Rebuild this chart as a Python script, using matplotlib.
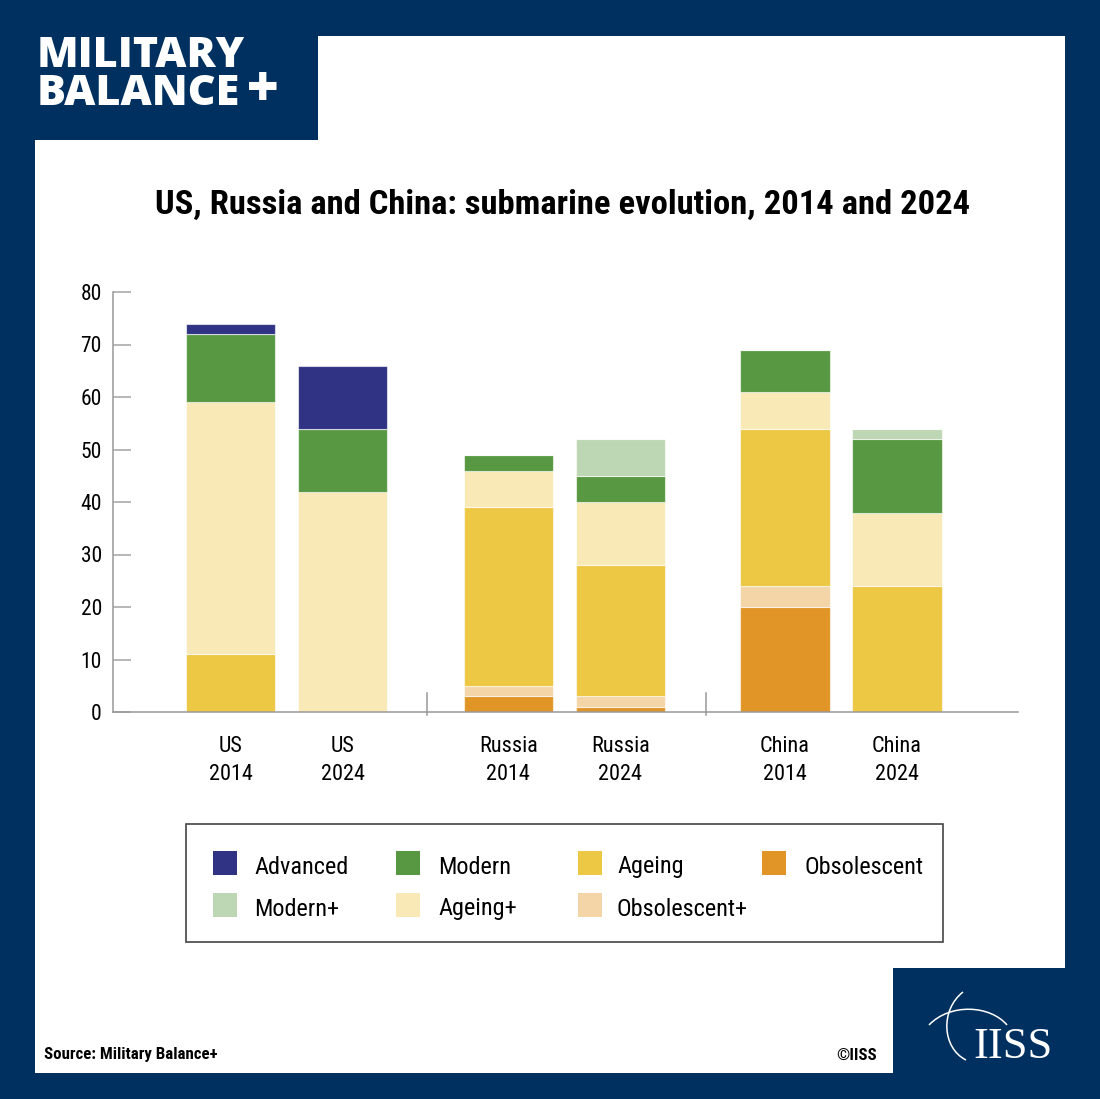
import numpy as np
import matplotlib.pyplot as plt
from matplotlib import font_manager
from matplotlib.patches import Rectangle, PathPatch
from matplotlib.path import Path

# ---------------------------------------------
# ----                 Data                 ----
# ---------------------------------------------

bar_labels = ["US\n2014", "US\n2024", "Russia\n2014", "Russia\n2024", "China\n2014", "China\n2024"]
bar_pos = [1.05, 2.05, 3.53, 4.53, 6.0, 7.0]
group_breaks = [2.80, 5.29]

# stacked from bottom to top
obsolescent      = [0, 0, 3, 1, 20, 0]
obsolescent_plus = [0, 0, 2, 2, 4, 0]
ageing           = [11, 0, 34, 25, 30, 24]
ageing_plus      = [48, 42, 7, 12, 7, 14]
modern           = [13, 12, 3, 5, 8, 14]
modern_plus      = [0, 0, 0, 7, 0, 2]
advanced         = [2, 12, 0, 0, 0, 0]

series = [
    ("Obsolescent", obsolescent, "#e19527"),
    ("Obsolescent+", obsolescent_plus, "#f4d5a8"),
    ("Ageing", ageing, "#edc845"),
    ("Ageing+", ageing_plus, "#f8e9b6"),
    ("Modern", modern, "#589842"),
    ("Modern+", modern_plus, "#bdd6b3"),
    ("Advanced", advanced, "#303383"),
]

legend_rows = [["Advanced", "Modern", "Ageing", "Obsolescent"],
               ["Modern+", "Ageing+", "Obsolescent+"]]

NAVY = "#00305f"
W, H = 1100, 1099

# condensed font if one is around, else DejaVu
have = {f.name for f in font_manager.fontManager.ttflist}
def pick(cands, fallback="DejaVu Sans"):
    for c in cands:
        if c in have:
            return [c, fallback]
    return [fallback]

NARROW = pick(["Roboto Condensed", "Liberation Sans Narrow", "Archivo Narrow",
               "PT Sans Narrow", "Fira Sans Condensed", "IBM Plex Sans Condensed",
               "Barlow Semi Condensed"])
LOGO = pick(["Open Sans", "Lato"])

def fx(x):
    return x / W

def fy(y):
    return 1 - y / H

fig = plt.figure(figsize=(W / 100, H / 100), dpi=100)
fig.patch.set_facecolor(NAVY)

# white panel + navy corner blocks
fig.patches.append(Rectangle((fx(35), fy(1073)), fx(1065) - fx(35), fy(36) - fy(1073),
                             transform=fig.transFigure, facecolor="white", edgecolor="none", zorder=-2))
fig.patches.append(Rectangle((0, fy(140)), fx(318), 1 - fy(140),
                             transform=fig.transFigure, facecolor=NAVY, edgecolor="none", zorder=-1))
fig.patches.append(Rectangle((fx(893), 0), 1 - fx(893), fy(968),
                             transform=fig.transFigure, facecolor=NAVY, edgecolor="none", zorder=-1))

# ---------------------------------------------
# ----               Chart                  ----
# ---------------------------------------------

ax = fig.add_axes([fx(113), fy(712), fx(1018) - fx(113), fy(292) - fy(712)])
ax.set_facecolor("none")

bottom = np.zeros(len(bar_pos))
for name, vals, col in series:
    vals = np.array(vals, dtype=float)
    ax.bar(bar_pos, vals, width=0.80, bottom=bottom, color=col,
           edgecolor=(1, 1, 1, 0.6), linewidth=0.8, label=name, zorder=2)
    bottom += vals

ax.set_xlim(0, 8.08)
ax.set_ylim(0, 80)
ax.set_yticks(range(0, 81, 10))
ax.set_xticks(bar_pos)
ax.set_xticklabels(bar_labels, family=NARROW, fontsize=16, linespacing=1.45)
for lab in ax.get_yticklabels():
    lab.set_family(NARROW)
    lab.set_fontsize(15.5)
ax.tick_params(axis="y", direction="in", length=13, width=1.2, color="#aaaaaa", pad=8)
ax.tick_params(axis="x", length=0, pad=17)

for s in ["top", "right"]:
    ax.spines[s].set_visible(False)
ax.spines["left"].set_color("#999999")
ax.spines["bottom"].set_color("#999999")
ax.spines["left"].set_linewidth(1.1)
ax.spines["bottom"].set_linewidth(1.1)

for xb in group_breaks:
    ax.axvline(xb, ymin=-0.008, ymax=0.045, color="#999999", lw=1.1, clip_on=False)

# ---------------------------------------------
# ----           Title and legend           ----
# ---------------------------------------------

fig.text(fx(563), fy(205), "US, Russia and China: submarine evolution, 2014 and 2024",
         ha="center", va="center", fontsize=24.8, fontweight="bold", family=NARROW)

fig.patches.append(Rectangle((fx(186), fy(942)), fx(943) - fx(186), fy(824) - fy(942),
                             transform=fig.transFigure, facecolor="white",
                             edgecolor="#444444", linewidth=1.2, zorder=2))
colors = {name: col for name, _, col in series}
sq_x = [213, 396, 578, 762]
txt_x = [254, 438, 617, 804]
row_y = [863, 905]
for r, row in enumerate(legend_rows):
    for c, name in enumerate(row):
        fig.patches.append(Rectangle((fx(sq_x[c]), fy(row_y[r] + 12)), fx(24), 24 / H,
                                     transform=fig.transFigure, facecolor=colors[name],
                                     edgecolor="none", zorder=3))
        fig.text(fx(txt_x[c]), fy(row_y[r] + 4), name, ha="left", va="center",
                 fontsize=17.5, family=NARROW, zorder=4)

# ---------------------------------------------
# ----          Branding / footer           ----
# ---------------------------------------------

fig.text(fx(37), fy(75), "MILITARY\nBALANCE", ha="left", va="center", fontsize=31,
         fontweight="heavy", family=LOGO, color="white", linespacing=0.85)
fig.text(fx(263), fy(92), "+", ha="center", va="center", fontsize=40,
         fontweight="heavy", family=LOGO, color="white")

fig.text(fx(44), fy(1055), "Source: Military Balance+", ha="left", va="center",
         fontsize=12.2, fontweight="bold", family=NARROW)
fig.text(fx(877), fy(1055), "\u00a9IISS", ha="right", va="center",
         fontsize=12.2, fontweight="bold", family=NARROW)

fig.text(fx(1013), fy(1047), "IISS", ha="center", va="center", fontsize=32,
         family=["Liberation Serif", "DejaVu Serif"], color="white")

# logo arcs
arc1 = Path([(fx(929), fy(1025)), (fx(950), fy(1003)), (fx(990), fy(1005)), (fx(1007), fy(1025))],
            [Path.MOVETO, Path.CURVE4, Path.CURVE4, Path.CURVE4])
arc2 = Path([(fx(963), fy(992)), (fx(940), fy(1010)), (fx(942), fy(1048)), (fx(966), fy(1060))],
            [Path.MOVETO, Path.CURVE4, Path.CURVE4, Path.CURVE4])
for p in (arc1, arc2):
    fig.patches.append(PathPatch(p, transform=fig.transFigure, facecolor="none",
                                 edgecolor="white", linewidth=1.1, zorder=3))

fig.savefig("out.png", dpi=100, facecolor=fig.get_facecolor())
